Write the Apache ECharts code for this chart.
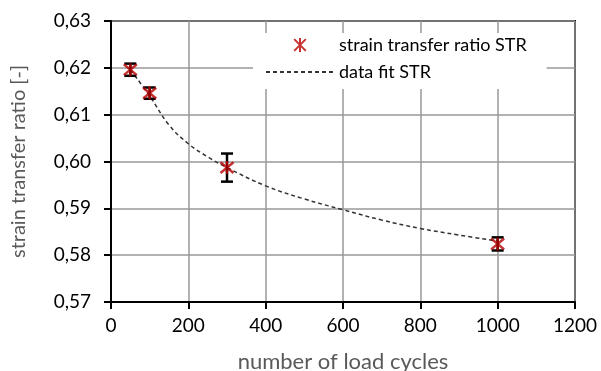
<!DOCTYPE html>
<html>
<head>
<meta charset="utf-8">
<script src="https://cdn.jsdelivr.net/npm/echarts@6/dist/echarts.min.js"></script>
<style>
  html, body { margin: 0; padding: 0; background: #fff; }
  #chart { width: 601px; height: 371px; }
</style>
</head>
<body>
<div id="chart"></div>
<script>
// measured points (mean) and half error bar
const cycles = [50, 100, 300, 1000]
const strValues = [0.6196, 0.6146, 0.5987, 0.5824]
const strErrors = [0.0013, 0.0012, 0.0030, 0.0014]

// dashed fit line
const fitCycles = [50, 100, 150, 200, 250, 300, 400, 500, 600, 700, 800, 900, 1000]
const fitValues = [0.6196, 0.6140, 0.6078, 0.6038, 0.6010, 0.5987, 0.5948, 0.5920, 0.5897, 0.5875, 0.5857, 0.5843, 0.5830]

const font = 'Lato'
const starPath = 'path://M0,0 L10,10 M10,0 L0,10 M5,-1 L5,11'

const chart = echarts.init(document.getElementById('chart'))

const option = {
  animation: false,
  backgroundColor: '#fff',
  textStyle: { fontFamily: font },
  grid: {
    left: 111, right: 26, top: 21, bottom: 69,
    outerBoundsMode: 'none',
    show: true, borderColor: '#000', borderWidth: 2
  },
  legend: {
    orient: 'vertical',
    left: 253, top: 33,
    padding: [3, 20, 8, 12],
    backgroundColor: '#fff',
    itemWidth: 68, itemHeight: 14, itemGap: 9,
    textStyle: { fontFamily: font, fontSize: 18, color: '#000' },
    data: [
      'strain transfer ratio STR',
      { name: 'data fit STR', itemStyle: { opacity: 0 } }
    ]
  },
  xAxis: {
    type: 'value',
    min: 0, max: 1200, interval: 200,
    name: 'number of load cycles',
    nameLocation: 'middle', nameGap: 49,
    nameTextStyle: { fontFamily: font, fontSize: 22, color: '#595959' },
    axisLine: { lineStyle: { color: '#000', width: 2 } },
    axisTick: { length: 7, lineStyle: { color: '#000', width: 2 } },
    axisLabel: {
      fontFamily: font, fontSize: 19, color: '#000', margin: 14,
      formatter: (v) => String(v)
    },
    splitLine: { lineStyle: { color: '#999', width: 1.5 } }
  },
  yAxis: {
    type: 'value',
    min: 0.57, max: 0.63, interval: 0.01,
    name: 'strain transfer ratio [-]',
    nameLocation: 'middle', nameGap: 82, nameRotate: 90,
    nameTextStyle: { fontFamily: font, fontSize: 20, color: '#595959' },
    axisLine: { show: true, lineStyle: { color: '#000', width: 2 } },
    axisTick: { show: true, length: 7, lineStyle: { color: '#000', width: 2 } },
    axisLabel: {
      fontFamily: font, fontSize: 19, color: '#000', margin: 20,
      formatter: (v) => v.toFixed(2).replace('.', ',')
    },
    splitLine: { lineStyle: { color: '#999', width: 1.5 } }
  },
  series: [
    {
      name: 'data fit STR',
      type: 'line',
      smooth: 0.4,
      showSymbol: false,
      symbol: 'none',
      z: 2,
      lineStyle: { color: '#333', width: 1.5, type: [4, 3] },
      itemStyle: { color: '#333' },
      data: fitCycles.map((x, i) => [x, fitValues[i]])
    },
    {
      name: 'error',
      type: 'custom',
      z: 3,
      renderItem: (params, api) => {
        const x = api.value(0)
        const top = api.coord([x, api.value(2)])
        const bot = api.coord([x, api.value(1)])
        const w = 6
        const st = { stroke: '#000', lineWidth: 2.5 }
        return {
          type: 'group',
          children: [
            { type: 'line', shape: { x1: top[0], y1: top[1], x2: bot[0], y2: bot[1] }, style: st },
            { type: 'line', shape: { x1: top[0] - w, y1: top[1], x2: top[0] + w, y2: top[1] }, style: st },
            { type: 'line', shape: { x1: bot[0] - w, y1: bot[1], x2: bot[0] + w, y2: bot[1] }, style: st }
          ]
        }
      },
      encode: { x: 0, y: [1, 2] },
      data: cycles.map((x, i) => [x, strValues[i] - strErrors[i], strValues[i] + strErrors[i]])
    },
    {
      name: 'strain transfer ratio STR',
      type: 'scatter',
      symbol: starPath,
      symbolSize: 13,
      z: 4,
      itemStyle: { color: 'transparent', borderColor: '#b80000', borderWidth: 2.5 },
      data: cycles.map((x, i) => [x, strValues[i]])
    }
  ]
}

chart.setOption(option)
</script>
</body>
</html>
